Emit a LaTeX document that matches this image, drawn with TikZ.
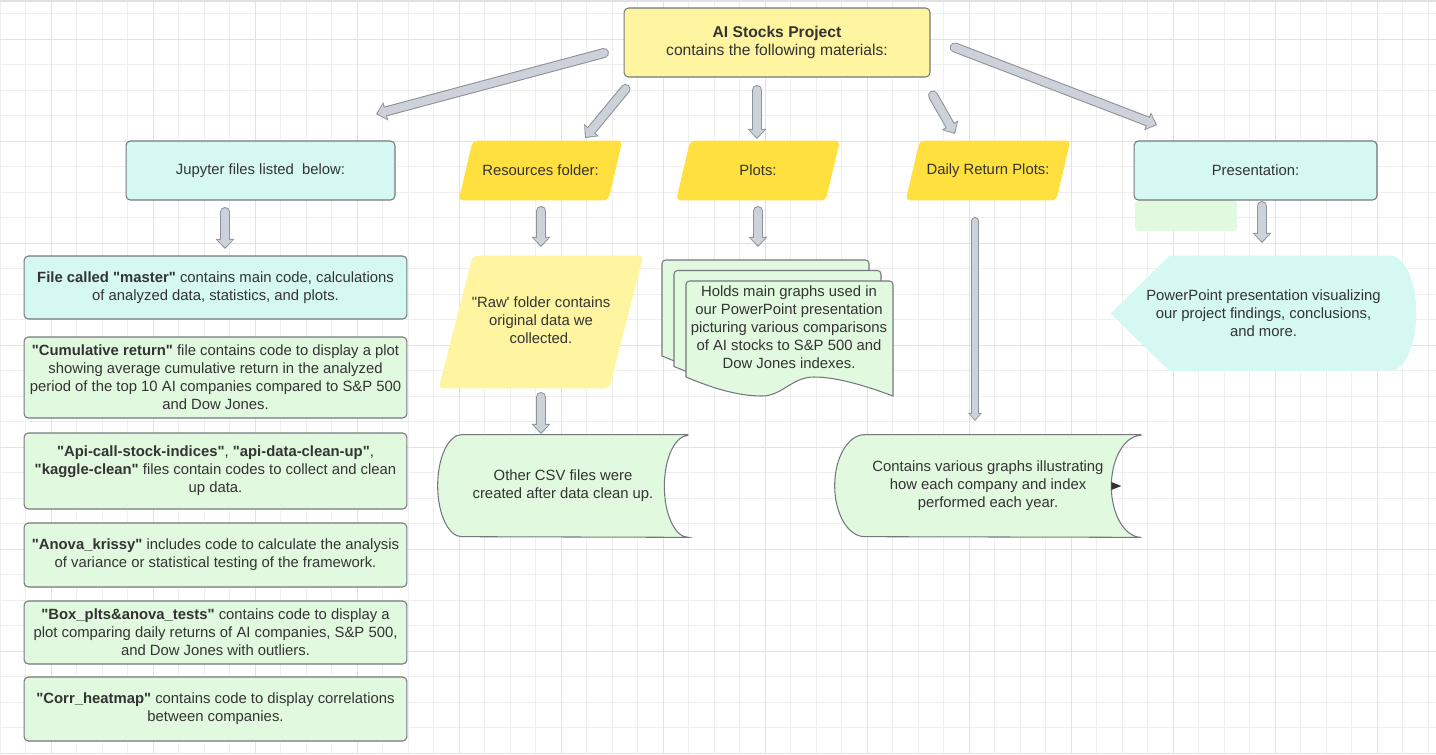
\documentclass[tikz,border=0pt]{standalone}
\usepackage{fontspec}
\setmainfont{Liberation Sans}[Ligatures=TeXOff]
\usetikzlibrary{arrows.meta,calc,backgrounds}

\definecolor{inkgray}{HTML}{333333}
\definecolor{edgegray}{HTML}{74787E}
\definecolor{cyanfill}{HTML}{D5F8F2}
\definecolor{greenfill}{HTML}{E1F9DF}
\definecolor{paleyellow}{HTML}{FFF5A0}
\definecolor{deepyellow}{HTML}{FFE03E}
\definecolor{arrowgray}{HTML}{CDD2DA}
\definecolor{arrowline}{HTML}{8C929B}
\definecolor{gridminor}{HTML}{EFEFEF}
\definecolor{gridmajor}{HTML}{E2E2E2}

\tikzset{
  every node/.style={text=inkgray, font=\fontsize{8.45}{10.2}\selectfont, align=center, inner sep=0pt},
  topbox/.style={draw=edgegray, fill=paleyellow, line width=0.6pt, rounded corners=2.5pt,
    minimum width=6.12cm, minimum height=1.38cm, font=\fontsize{8.9}{10.2}\selectfont},
  headbox/.style={draw=edgegray, fill=cyanfill, line width=0.6pt, rounded corners=2.5pt, minimum height=1.18cm},
  slantnode/.style={minimum width=3.26cm, minimum height=1.18cm},
  listbox/.style={draw=edgegray, line width=0.6pt, rounded corners=2.5pt, minimum width=7.66cm},
  sheet/.style={draw=edgegray, fill=greenfill, line width=0.6pt},
  storeshape/.style={draw=edgegray, fill=greenfill, line width=0.6pt},
  bigarrow/.style={draw=arrowline, line width=5.7pt, line cap=round, -{Triangle[width=10.5pt,length=5.8pt]}},
  bigarrowfill/.style={draw=arrowgray, line width=4.5pt, line cap=round, shorten >=0.9pt, -{Triangle[width=8.3pt,length=4.3pt]}},
  thinarrow/.style={draw=arrowline, line width=4.4pt, line cap=round, -{Triangle[width=7.6pt,length=4.6pt]}},
  thinarrowfill/.style={draw=arrowgray, line width=3.3pt, line cap=round, shorten >=0.8pt, -{Triangle[width=5.8pt,length=3.3pt]}}
}

\begin{document}
\begin{tikzpicture}[x=0.02cm, y=0.02cm]
\useasboundingbox (0,0) rectangle (1436,-754);

% top node
\node[topbox] (project) at (777,-42.5) {\textbf{AI Stocks Project}\\contains the following materials:};

% second row
\node[headbox, minimum width=5.38cm] (jupyter) at (260.5,-170.5) {Jupyter files listed\ \ below:};
\node[slantnode] (resources) at (540.5,-170.5) {Resources folder:};
\node[slantnode] (plotsdir) at (758,-170.5) {Plots:};
\node[slantnode, minimum width=3.28cm] (dailydir) at (988,-170.5) {Daily Return Plots:};
\node[headbox, minimum width=4.86cm] (present) at (1255.5,-170.5) {Presentation:};

% jupyter files
\node[listbox, fill=cyanfill, minimum height=1.26cm] (master) at (215.5,-287.5)
  {\textbf{File called "master"} contains main code, calculations\\of analyzed data, statistics, and plots.};
\node[listbox, fill=greenfill, minimum height=1.62cm] (cumret) at (215.5,-377.5)
  {\textbf{"Cumulative return"} file contains code to display a plot\\showing average cumulative return in the analyzed\\period of the top 10 AI companies compared to S\&P 500\\and Dow Jones.};
\node[listbox, fill=greenfill, minimum height=1.52cm] (apiclean) at (215.5,-471)
  {\textbf{"Api-call-stock-indices"}, \textbf{"api-data-clean-up"},\\\textbf{"kaggle-clean"} files contain codes to collect and clean\\up data.};
\node[listbox, fill=greenfill, minimum height=1.28cm] (anova) at (215.5,-555)
  {\textbf{"Anova\_krissy"} includes code to calculate the analysis\\of variance or statistical testing of the framework.};
\node[listbox, fill=greenfill, minimum height=1.26cm] (boxplots) at (215.5,-632.5)
  {\textbf{"Box\_plts\&anova\_tests"} contains code to display a\\plot comparing daily returns of AI companies, S\&P 500,\\and Dow Jones with outliers.};
\node[listbox, fill=greenfill, minimum height=1.28cm] (heatmap) at (215.5,-709)
  {\textbf{"Corr\_heatmap"} contains code to display correlations\\between companies.};

% resources
\node[slantnode, minimum width=4.08cm, minimum height=2.64cm] (rawdata) at (541,-322) {};
\node (rawtext) at (541,-320) {"Raw' folder contains\\original data we\\collected.};
\node[minimum width=5cm, minimum height=2.04cm] (csvfiles) at (563,-486)
  {Other CSV files were\\created after data clean up.};

% plots
\node (graphs) at (789,-327) {Holds main graphs used in\\our PowerPoint presentation\\picturing various comparisons\\of AI stocks to S\&P 500 and\\Dow Jones indexes.};

% daily return plots
\node[minimum width=6.12cm, minimum height=2.04cm] (dailygraphs) at (988,-486)
  {Contains various graphs illustrating\\how each company and index\\performed each year.};

% presentation
\node[minimum width=6.1cm, minimum height=2.3cm] (slides) at (1263.5,-313.5)
  {PowerPoint presentation visualizing\\our project findings, conclusions,\\and more.};

\begin{scope}[on background layer]
  % grid
  \foreach \x in {0,25.5,...,1436} \draw[gridminor, line width=0.5pt] (\x,0) -- (\x,-754);
  \foreach \y in {13.5,39,...,754} \draw[gridminor, line width=0.5pt] (0,-\y) -- (1436,-\y);
  \foreach \x in {51,153,...,1436} \draw[gridmajor, line width=0.55pt] (\x,0) -- (\x,-754);
  \foreach \y in {39,141,...,754} \draw[gridmajor, line width=0.55pt] (0,-\y) -- (1436,-\y);
  \draw[gridmajor, line width=0.8pt] (0,-1) -- (1436,-1);

  % parallelograms
  \foreach \n/\s/\c in {resources/14/deepyellow, plotsdir/14/deepyellow, dailydir/14/deepyellow, rawdata/34/paleyellow}
    \fill[\c, rounded corners=2.5pt] (\n.south west) -- ($(\n.north west)+(\s,0)$) -- (\n.north east) -- ($(\n.south east)-(\s,0)$) -- cycle;

  % green patch under presentation
  \fill[greenfill, rounded corners=2pt] (1135,-200) -- (1135,-231) -- (1237,-231) -- (1237,-200) -- cycle;

  % stacked sheets
  \foreach \dx/\dy in {-24/21, -12/10.5, 0/0}
    \filldraw[sheet, shift={(686+\dx,-281+\dy)}] (0,-96) [rounded corners=2pt] -- (0,0) -- (207,0) [sharp corners] -- (207,-115)
      .. controls (183,-106) and (152,-96) .. (128,-96) .. controls (106,-96) and (96,-115) .. (76,-115)
      .. controls (50,-115) and (24,-106) .. (0,-96) -- cycle;

  % stored data shapes
  \foreach \n/\r in {csvfiles/24, dailygraphs/30}
    \filldraw[storeshape] (\n.north east) -- ($(\n.north west)+(\r,0)$)
      arc[start angle=90, end angle=270, x radius=\r, y radius=51] -- (\n.south east)
      arc[start angle=270, end angle=90, x radius=\r, y radius=51];
  \fill[inkgray] ($(dailygraphs.east)+(-30,4)$) -- ++(10,-4) -- ++(-10,-4) -- cycle;

  % display shape
  \fill[cyanfill] (slides.west) -- ($(slides.north west)+(59,0)$) -- ($(slides.north east)+(-26,0)$)
    arc[start angle=90, end angle=-90, x radius=26, y radius=57.5] -- ($(slides.south west)+(59,0)$) -- cycle;
\end{scope}

% arrow ends
\coordinate (project-out1) at (604,-53);   \coordinate (jupyter-in) at (376,-114);
\coordinate (project-out2) at (625.5,-89); \coordinate (resources-in) at (585,-138);
\coordinate (project-out3) at (757,-90);   \coordinate (plots-in) at (757,-139);
\coordinate (project-out4) at (933,-95.5); \coordinate (daily-in) at (955,-134);
\coordinate (project-out5) at (954.7,-47.4); \coordinate (present-in) at (1157,-125);
\coordinate (jupyter-out) at (225,-212);   \coordinate (master-in) at (225,-249);
\coordinate (resources-out) at (541,-211); \coordinate (raw-in) at (541,-247);
\coordinate (plots-out) at (758,-211);     \coordinate (graphs-in) at (758,-247);
\coordinate (present-out) at (1262,-206);  \coordinate (slides-in) at (1262,-243);
\coordinate (raw-out) at (541,-397);       \coordinate (csv-in) at (541,-434);
\coordinate (daily-out) at (975,-221);     \coordinate (dailygraphs-in) at (975,-421);

\foreach \s/\e in {project-out1/jupyter-in, project-out2/resources-in, project-out3/plots-in,
    project-out4/daily-in, project-out5/present-in, jupyter-out/master-in, resources-out/raw-in,
    plots-out/graphs-in, present-out/slides-in, raw-out/csv-in}
  {\draw[bigarrow] (\s) -- (\e); \draw[bigarrowfill] (\s) -- (\e);}
\draw[thinarrow] (daily-out) -- (dailygraphs-in);
\draw[thinarrowfill] (daily-out) -- (dailygraphs-in);
\end{tikzpicture}
\end{document}
